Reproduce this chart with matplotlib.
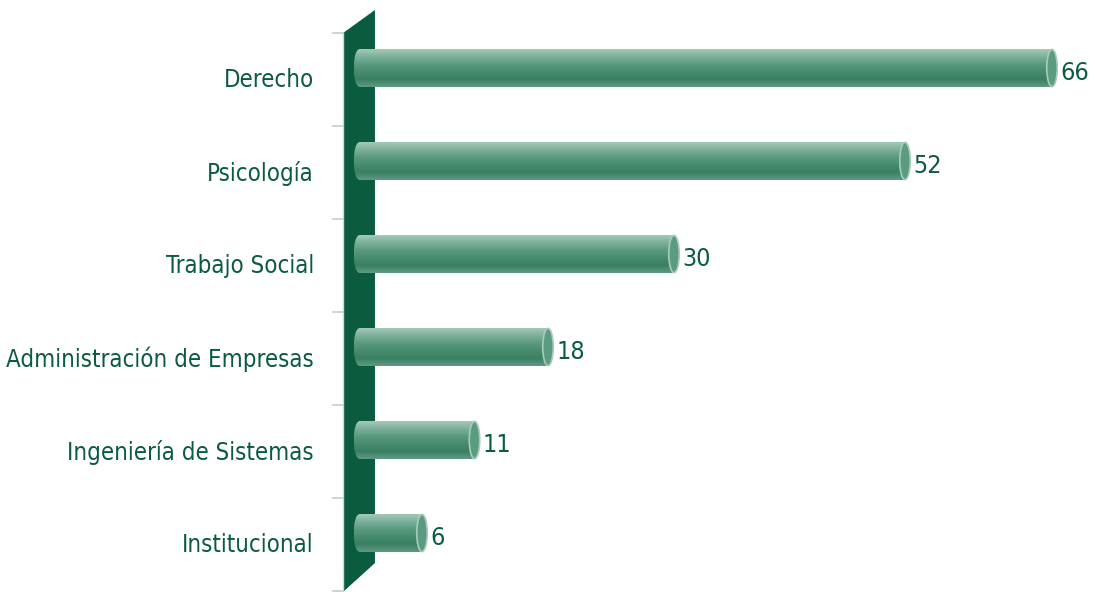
import numpy as np
import matplotlib.pyplot as plt
from matplotlib.colors import LinearSegmentedColormap
from matplotlib.patches import Ellipse, Polygon, Rectangle

categorias = ["Derecho", "Psicología", "Trabajo Social",
              "Administración de Empresas", "Ingeniería de Sistemas",
              "Institucional"]
valores = [66, 52, 30, 18, 11, 6]

verde = "#0b5c3f"
plt.rcParams["font.family"] = ["DejaVu Sans"]
plt.rcParams["font.stretch"] = "condensed"

fig = plt.figure(figsize=(10.95, 5.92), dpi=100)
ax = fig.add_axes([0, 0, 1, 1])
ax.set_xlim(-359 / 10.5, (1095 - 359) / 10.5)
ax.set_ylim((592 - 68) / 93, -68 / 93)
ax.axis("off")

# pared
pared = Polygon([(-1.52, -0.376), (1.52, -0.624), (1.52, 5.323), (-1.52, 5.634)],
                closed=True, facecolor=verde, edgecolor="none", zorder=1)
ax.add_patch(pared)
ax.plot([-1.52, -1.52], [-0.376, 5.634], color="#c9ddd3", lw=1, zorder=1.5)
for k in range(7):
    yt = -0.376 + k
    ax.plot([-2.48, -1.52], [yt, yt], color="#b9d2c6", lw=1.2, zorder=1.5)

cmap = LinearSegmentedColormap.from_list(
    "cil", ["#a3c9b8", "#7cb09a", "#5a9a7f", "#478c6e", "#3a7f62", "#5f9a83"])
grad = np.linspace(0, 1, 100).reshape(-1, 1)

h = 0.40
ew = 1.0
for i, v in enumerate(valores):
    y0, y1 = i - h / 2, i + h / 2
    # extremo izquierdo
    el = Ellipse((0, i), ew, h, facecolor="none", edgecolor="none")
    ax.add_patch(el)
    im = ax.imshow(grad, cmap=cmap, extent=(-ew / 2, ew / 2, y1, y0),
                   aspect="auto", zorder=2, interpolation="bilinear")
    im.set_clip_path(el)
    # cuerpo
    rect = Rectangle((0, y0), v, h, facecolor="none", edgecolor="none")
    ax.add_patch(rect)
    im = ax.imshow(grad, cmap=cmap, extent=(0, v, y1, y0),
                   aspect="auto", zorder=2.1, interpolation="bilinear")
    im.set_clip_path(rect)
    # tapa
    ax.add_patch(Ellipse((v, i), ew, h, facecolor="#5b9b80",
                         edgecolor="#a9cbbc", lw=1.2, zorder=3))
    ax.text(v + ew / 2 + 0.3, i + 0.05, str(v), color=verde, fontsize=18,
            ha="left", va="center", zorder=4)
    ax.text(-4.3, i + 0.13, categorias[i], color=verde, fontsize=17.2,
            ha="right", va="center", zorder=4)

fig.savefig("out.png", dpi=100, facecolor="white")
